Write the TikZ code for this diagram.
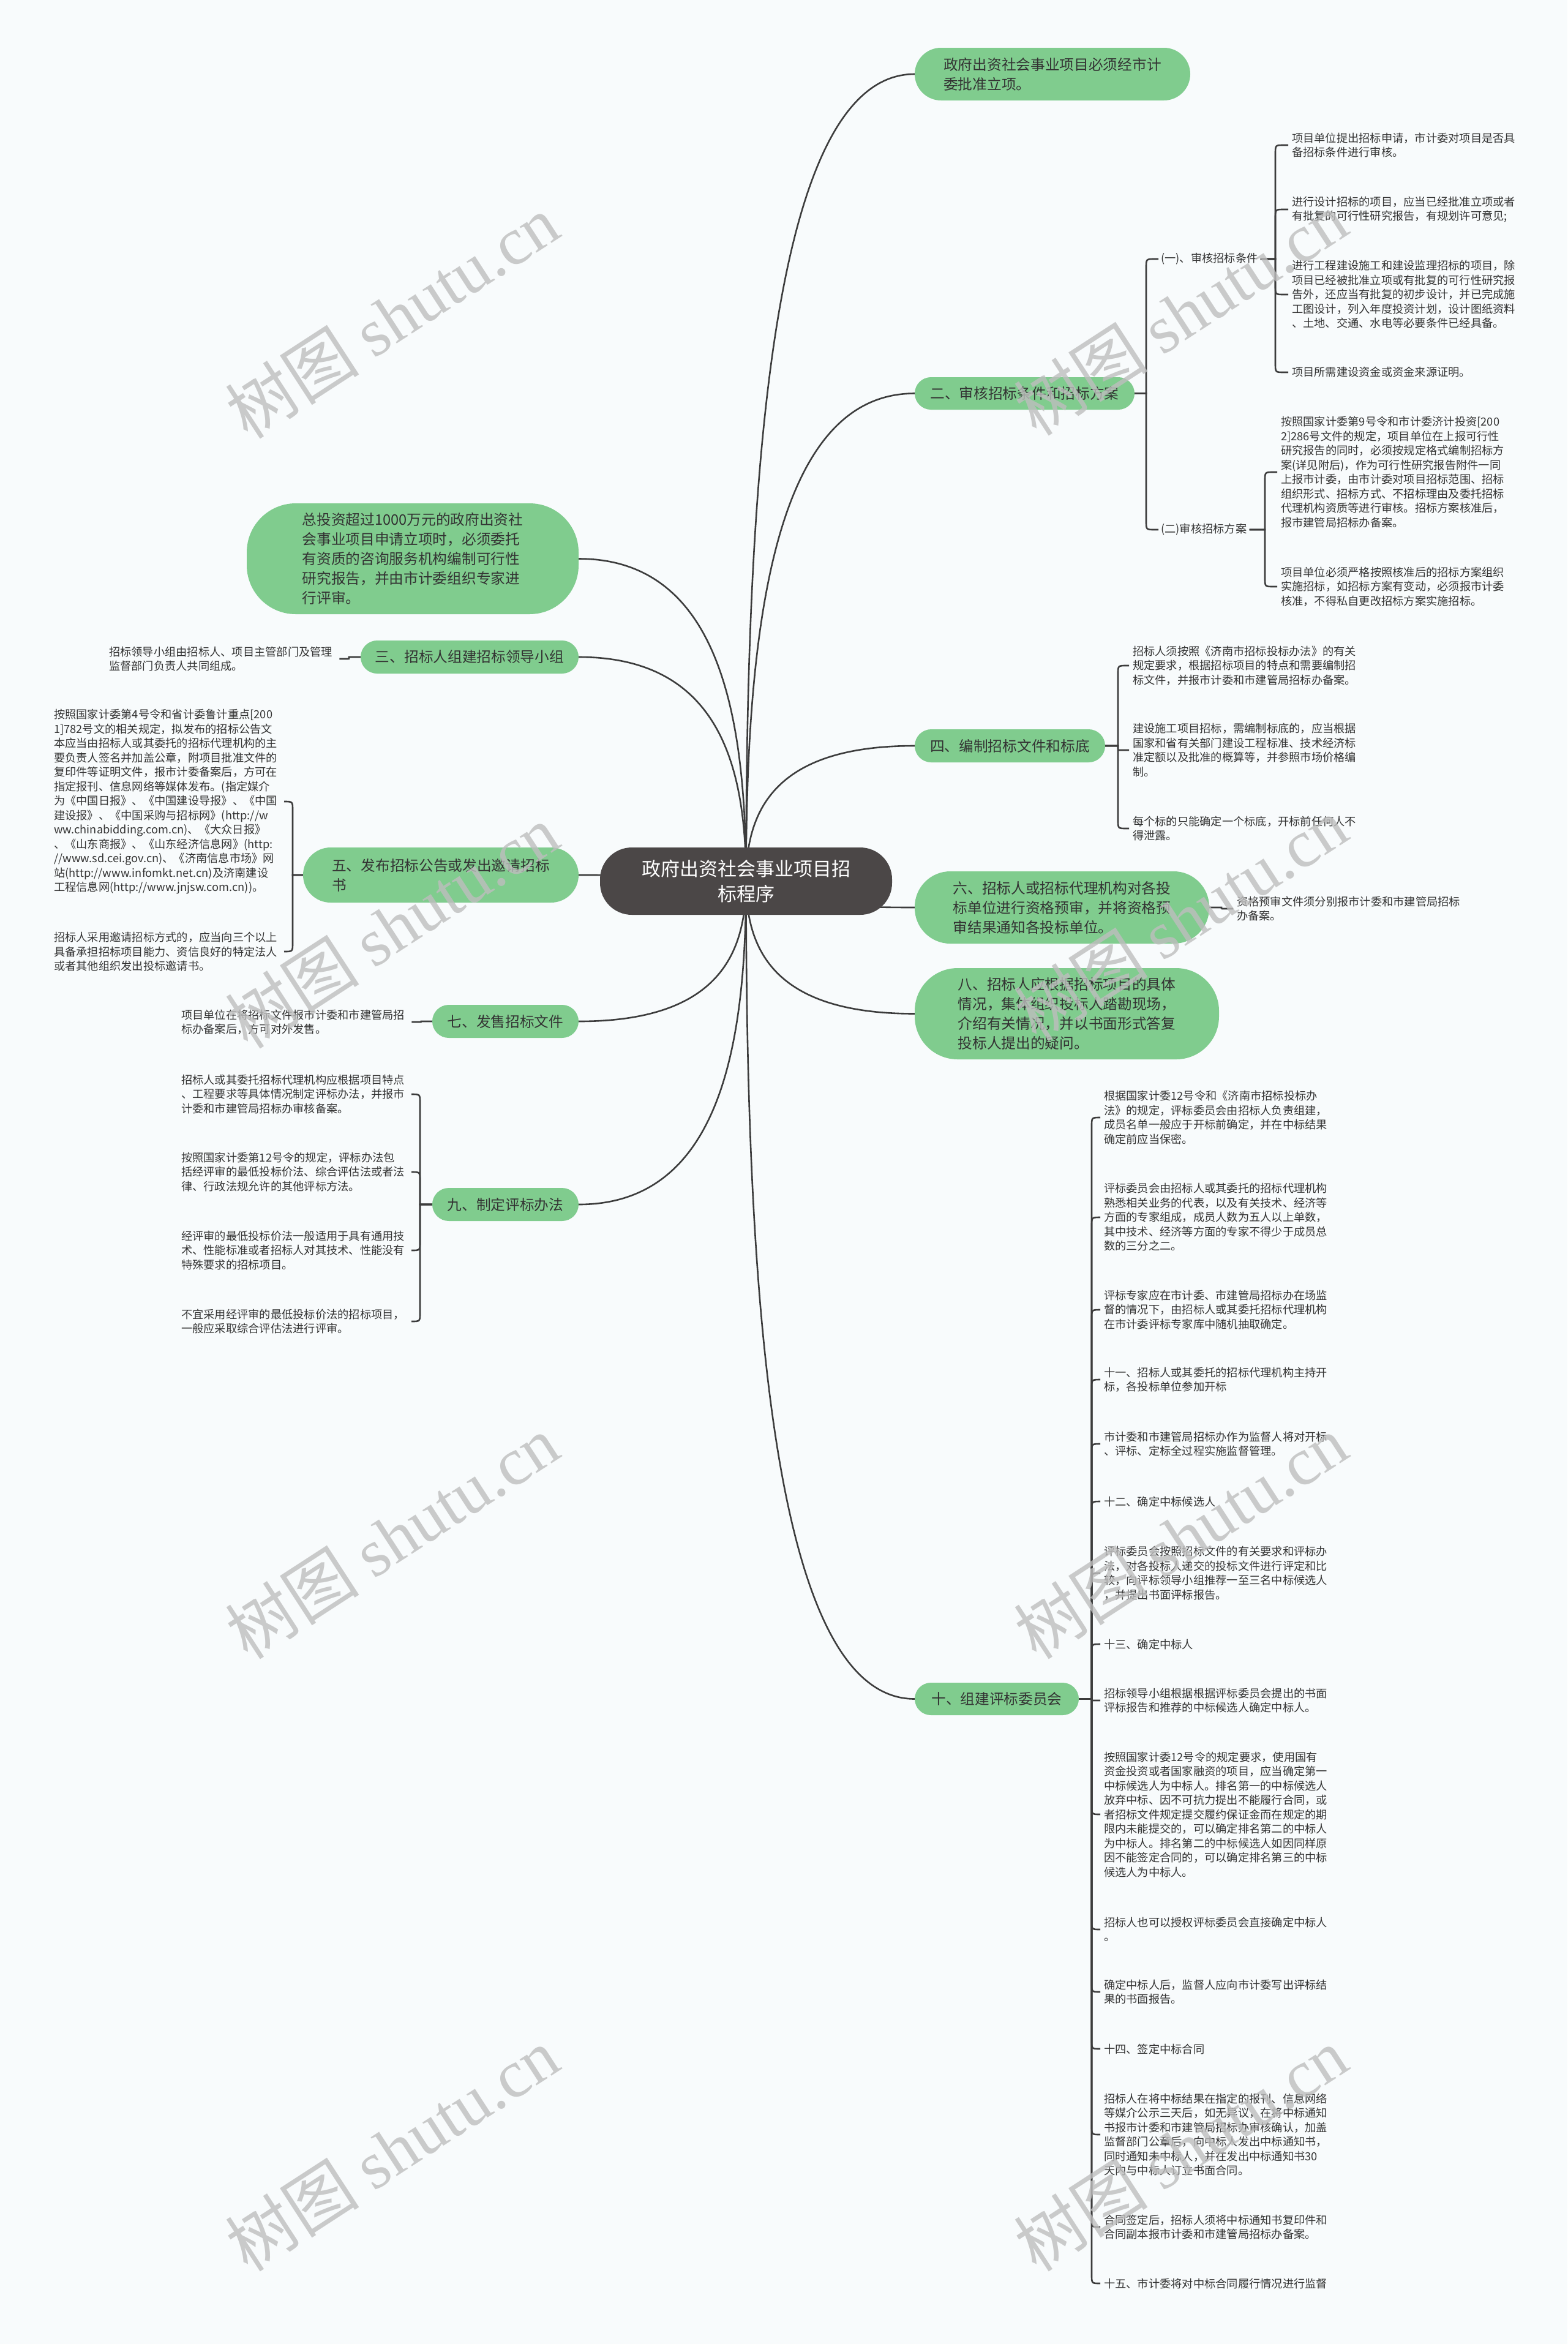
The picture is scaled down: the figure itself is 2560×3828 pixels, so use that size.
\documentclass[tikz,border=0pt]{standalone}
\usepackage{fontspec}
\setmainfont{Noto Sans CJK SC}
\newfontfamily\wmserif{Liberation Serif}
\usetikzlibrary{calc}
\definecolor{bgc}{RGB}{248,251,252}
\definecolor{gr}{RGB}{128,204,142}
\definecolor{dk}{RGB}{75,71,71}
\definecolor{lnc}{RGB}{60,60,60}
\definecolor{tx}{RGB}{51,51,51}
\definecolor{wm}{RGB}{190,190,190}
\pgfdeclarelayer{bgl}
\pgfdeclarelayer{edges}
\pgfsetlayers{bgl,edges,main}
\tikzset{
  conn/.style={draw=lnc, line width=2.6pt},
  gnode/.style={fill=gr, text=tx, align=left, font=\fontsize{23.7}{32}\selectfont, inner sep=0pt},
  leaf/.style={anchor=west, text width=370pt, align=left, text=tx, font=\fontsize{18.25}{23.5}\selectfont, inner xsep=6pt, inner ysep=0pt},
  subnode/.style={anchor=west, text=tx, font=\fontsize{18.25}{23.5}\selectfont, inner xsep=4pt, inner ysep=2pt},
  wmark/.style={text=wm, opacity=0.8, rotate=33, font=\fontsize{110}{120}\selectfont, inner sep=0pt}
}
\newcommand{\mainc}[2]{\draw[conn] let \p1=(C.center), \p2=(#1.#2) in (\p1) .. controls (\x1,{0.5*\y1+0.5*\y2}) and ({\x1+0.15*(\x2-\x1)},\y2) .. (\p2);}
\newcommand{\hkR}[3]{\draw[conn] let \p1=(#1.east), \p2=(#3.west), \n1={min(14,abs(\y2-\y1)/2)}, \n2={\y2>\y1 ? 1 : -1} in (\p1) -- (#2pt,\y1) -- (#2pt,{\y2-\n2*\n1*1pt}) .. controls (#2pt,\y2) .. ({#2pt+\n1*1pt},\y2) -- (\p2);}
\newcommand{\hkL}[3]{\draw[conn] let \p1=(#1.west), \p2=(#3.east), \n1={min(14,abs(\y2-\y1)/2)}, \n2={\y2>\y1 ? 1 : -1} in (\p1) -- (#2pt,\y1) -- (#2pt,{\y2-\n2*\n1*1pt}) .. controls (#2pt,\y2) .. ({#2pt-\n1*1pt},\y2) -- (\p2);}
\begin{document}
\begin{tikzpicture}[x=1pt,y=-1pt]
\useasboundingbox (0,0) rectangle (2560,3828);
\begin{pgfonlayer}{bgl}
\fill[bgc] (0,0) rectangle (2560,3828);
\end{pgfonlayer}
% center
\node[fill=dk, text=white, align=center, font=\fontsize{31}{41}\selectfont, minimum width=477pt, minimum height=110pt, rounded corners=52pt, inner sep=0pt] (C) at (1218.5,1439) {政府出资社会事业项目招\\标程序};
% right main nodes
\node[gnode, minimum width=450pt, minimum height=86pt, rounded corners=43pt] (n1) at (1719,121) {政府出资社会事业项目必须经市计\\委批准立项。};
\node[gnode, minimum width=359pt, minimum height=53pt, rounded corners=26.5pt] (n2) at (1673.5,642.5) {二、审核招标条件和招标方案};
\node[gnode, minimum width=311pt, minimum height=54pt, rounded corners=27pt] (n4) at (1649.5,1218) {四、编制招标文件和标底};
\node[gnode, minimum width=481pt, minimum height=118pt, rounded corners=58pt] (n6) at (1734.5,1482) {六、招标人或招标代理机构对各投\\标单位进行资格预审，并将资格预\\审结果通知各投标单位。};
\node[gnode, minimum width=497pt, minimum height=149pt, rounded corners=70pt] (n8) at (1742.5,1655.5) {八、招标人应根据招标项目的具体\\情况，集体组织投标人踏勘现场，\\介绍有关情况，并以书面形式答复\\投标人提出的疑问。};
\node[gnode, minimum width=268pt, minimum height=53pt, rounded corners=26.5pt] (n10) at (1628,2774.5) {十、组建评标委员会};
% left main nodes
\node[gnode, minimum width=542pt, minimum height=181pt, rounded corners=80pt] (nz) at (674,912.5) {总投资超过1000万元的政府出资社\\会事业项目申请立项时，必须委托\\有资质的咨询服务机构编制可行性\\研究报告，并由市计委组织专家进\\行评审。};
\node[gnode, minimum width=356pt, minimum height=54pt, rounded corners=27pt] (n3) at (767,1073) {三、招标人组建招标领导小组};
\node[gnode, minimum width=450pt, minimum height=90pt, rounded corners=45pt] (n5) at (720,1429) {五、发布招标公告或发出邀请招标\\书};
\node[gnode, minimum width=239pt, minimum height=54pt, rounded corners=27pt] (n7) at (825.5,1668) {七、发售招标文件};
\node[gnode, minimum width=239pt, minimum height=54pt, rounded corners=27pt] (n9) at (825.5,1967) {九、制定评标办法};
% sub nodes of 二
\node[subnode] (s1) at (1892,423) {(一)、审核招标条件};
\node[subnode] (s2) at (1892,865) {(二)审核招标方案};
% leaves of (一)
\node[leaf] (a1) at (2104,237) {项目单位提出招标申请，市计委对项目是否具\\备招标条件进行审核。};
\node[leaf] (a2) at (2104,342) {进行设计招标的项目，应当已经批准立项或者\\有批复的可行性研究报告，有规划许可意见;};
\node[leaf] (a3) at (2104,481) {进行工程建设施工和建设监理招标的项目，除\\项目已经被批准立项或有批复的可行性研究报\\告外，还应当有批复的初步设计，并已完成施\\工图设计，列入年度投资计划，设计图纸资料\\、土地、交通、水电等必要条件已经具备。};
\node[leaf] (a4) at (2104,608) {项目所需建设资金或资金来源证明。};
% leaves of (二)
\node[leaf] (b1) at (2086,771) {按照国家计委第9号令和市计委济计投资[200\\2]286号文件的规定，项目单位在上报可行性\\研究报告的同时，必须按规定格式编制招标方\\案(详见附后)，作为可行性研究报告附件一同\\上报市计委，由市计委对项目招标范围、招标\\组织形式、招标方式、不招标理由及委托招标\\代理机构资质等进行审核。招标方案核准后，\\报市建管局招标办备案。};
\node[leaf] (b2) at (2086,958) {项目单位必须严格按照核准后的招标方案组织\\实施招标，如招标方案有变动，必须报市计委\\核准，不得私自更改招标方案实施招标。};
% leaves of 四
\node[leaf] (c1) at (1844,1087) {招标人须按照《济南市招标投标办法》的有关\\规定要求，根据招标项目的特点和需要编制招\\标文件，并报市计委和市建管局招标办备案。};
\node[leaf] (c2) at (1844,1225) {建设施工项目招标，需编制标底的，应当根据\\国家和省有关部门建设工程标准、技术经济标\\准定额以及批准的概算等，并参照市场价格编\\制。};
\node[leaf] (c3) at (1844,1353) {每个标的只能确定一个标底，开标前任何人不\\得泄露。};
% leaf of 六
\node[leaf] (d1) at (2014,1484) {资格预审文件须分别报市计委和市建管局招标\\办备案。};
% leaves of 十
\node[leaf] (e1) at (1797,1825) {根据国家计委12号令和《济南市招标投标办\\法》的规定，评标委员会由招标人负责组建，\\成员名单一般应于开标前确定，并在中标结果\\确定前应当保密。};
\node[leaf] (e2) at (1797,1988) {评标委员会由招标人或其委托的招标代理机构\\熟悉相关业务的代表，以及有关技术、经济等\\方面的专家组成，成员人数为五人以上单数，\\其中技术、经济等方面的专家不得少于成员总\\数的三分之二。};
\node[leaf] (e3) at (1797,2139) {评标专家应在市计委、市建管局招标办在场监\\督的情况下，由招标人或其委托招标代理机构\\在市计委评标专家库中随机抽取确定。};
\node[leaf] (e4) at (1797,2253) {十一、招标人或其委托的招标代理机构主持开\\标，各投标单位参加开标};
\node[leaf] (e5) at (1797,2358) {市计委和市建管局招标办作为监督人将对开标\\、评标、定标全过程实施监督管理。};
\node[leaf] (e6) at (1797,2452) {十二、确定中标候选人};
\node[leaf] (e7) at (1797,2569) {评标委员会按照招标文件的有关要求和评标办\\法，对各投标人递交的投标文件进行评定和比\\较，向评标领导小组推荐一至三名中标候选人\\，并提出书面评标报告。};
\node[leaf] (e8) at (1797,2685) {十三、确定中标人};
\node[leaf] (e9) at (1797,2777) {招标领导小组根据根据评标委员会提出的书面\\评标报告和推荐的中标候选人确定中标人。};
\node[leaf] (e10) at (1797,2963) {按照国家计委12号令的规定要求，使用国有\\资金投资或者国家融资的项目，应当确定第一\\中标候选人为中标人。排名第一的中标候选人\\放弃中标、因不可抗力提出不能履行合同，或\\者招标文件规定提交履约保证金而在规定的期\\限内未能提交的，可以确定排名第二的中标人\\为中标人。排名第二的中标候选人如因同样原\\因不能签定合同的，可以确定排名第三的中标\\候选人为中标人。};
\node[leaf] (e11) at (1797,3151) {招标人也可以授权评标委员会直接确定中标人\\。};
\node[leaf] (e12) at (1797,3253) {确定中标人后，监督人应向市计委写出评标结\\果的书面报告。};
\node[leaf] (e13) at (1797,3346) {十四、签定中标合同};
\node[leaf] (e14) at (1797,3486) {招标人在将中标结果在指定的报刊、信息网络\\等媒介公示三天后，如无异议，在将中标通知\\书报市计委和市建管局招标办审核确认，加盖\\监督部门公章后，向中标人发出中标通知书，\\同时通知未中标人，并在发出中标通知书30\\天内与中标人订立书面合同。};
\node[leaf] (e15) at (1797,3637) {合同签定后，招标人须将中标通知书复印件和\\合同副本报市计委和市建管局招标办备案。};
\node[leaf] (e16) at (1797,3729) {十五、市计委将对中标合同履行情况进行监督};
% left leaves
\node[leaf] (f1) at (172,1076) {招标领导小组由招标人、项目主管部门及管理\\监督部门负责人共同组成。};
\node[leaf] (g1) at (82,1309) {按照国家计委第4号令和省计委鲁计重点[200\\1]782号文的相关规定，拟发布的招标公告文\\本应当由招标人或其委托的招标代理机构的主\\要负责人签名并加盖公章，附项目批准文件的\\复印件等证明文件，报市计委备案后，方可在\\指定报刊、信息网络等媒体发布。(指定媒介\\为《中国日报》、《中国建设导报》、《中国\\建设报》、《中国采购与招标网》(http://w\\ww.chinabidding.com.cn)、《大众日报》\\、《山东商报》、《山东经济信息网》(http:\\//www.sd.cei.gov.cn)、《济南信息市场》网\\站(http://www.infomkt.net.cn)及济南建设\\工程信息网(http://www.jnjsw.com.cn))。};
\node[leaf] (g2) at (82,1554) {招标人采用邀请招标方式的，应当向三个以上\\具备承担招标项目能力、资信良好的特定法人\\或者其他组织发出投标邀请书。};
\node[leaf] (h1) at (290,1669) {项目单位在将招标文件报市计委和市建管局招\\标办备案后，方可对外发售。};
\node[leaf] (i1) at (290,1787) {招标人或其委托招标代理机构应根据项目特点\\、工程要求等具体情况制定评标办法，并报市\\计委和市建管局招标办审核备案。};
\node[leaf] (i2) at (290,1914) {按照国家计委第12号令的规定，评标办法包\\括经评审的最低投标价法、综合评估法或者法\\律、行政法规允许的其他评标方法。};
\node[leaf] (i3) at (290,2042) {经评审的最低投标价法一般适用于具有通用技\\术、性能标准或者招标人对其技术、性能没有\\特殊要求的招标项目。};
\node[leaf] (i4) at (290,2158) {不宜采用经评审的最低投标价法的招标项目，\\一般应采取综合评估法进行评审。};
% connectors
\begin{pgfonlayer}{edges}
\mainc{n1}{west}\mainc{n2}{west}\mainc{n4}{west}\mainc{n6}{west}\mainc{n8}{west}\mainc{n10}{west}
\mainc{nz}{east}\mainc{n3}{east}\mainc{n5}{east}\mainc{n7}{east}\mainc{n9}{east}
\hkR{n2}{1872}{s1}\hkR{n2}{1872}{s2}
\hkR{s1}{2083}{a1}\hkR{s1}{2083}{a2}\hkR{s1}{2083}{a3}\hkR{s1}{2083}{a4}
\hkR{s2}{2066}{b1}\hkR{s2}{2066}{b2}
\hkR{n4}{1826}{c1}\hkR{n4}{1826}{c2}\hkR{n4}{1826}{c3}
\hkR{n6}{1995}{d1}
\hkR{n10}{1783}{e1}\hkR{n10}{1783}{e2}\hkR{n10}{1783}{e3}\hkR{n10}{1783}{e4}
\hkR{n10}{1783}{e5}\hkR{n10}{1783}{e6}\hkR{n10}{1783}{e7}\hkR{n10}{1783}{e8}
\hkR{n10}{1783}{e9}\hkR{n10}{1783}{e10}\hkR{n10}{1783}{e11}\hkR{n10}{1783}{e12}
\hkR{n10}{1783}{e13}\hkR{n10}{1783}{e14}\hkR{n10}{1783}{e15}\hkR{n10}{1783}{e16}
\hkL{n3}{570}{f1}
\hkL{n5}{478}{g1}\hkL{n5}{478}{g2}
\hkL{n7}{688}{h1}
\hkL{n9}{686}{i1}\hkL{n9}{686}{i2}\hkL{n9}{686}{i3}\hkL{n9}{686}{i4}
\end{pgfonlayer}
% watermarks
\foreach \wx/\wy [count=\k] in {640/517,1928/512,640/1513,1928/1501,640/2510,1928/2510,640/3510,1928/3510}
  \node[wmark] (wm\k) at (\wx,\wy) {树图 {\wmserif shutu.cn}};
\end{tikzpicture}
\end{document}
